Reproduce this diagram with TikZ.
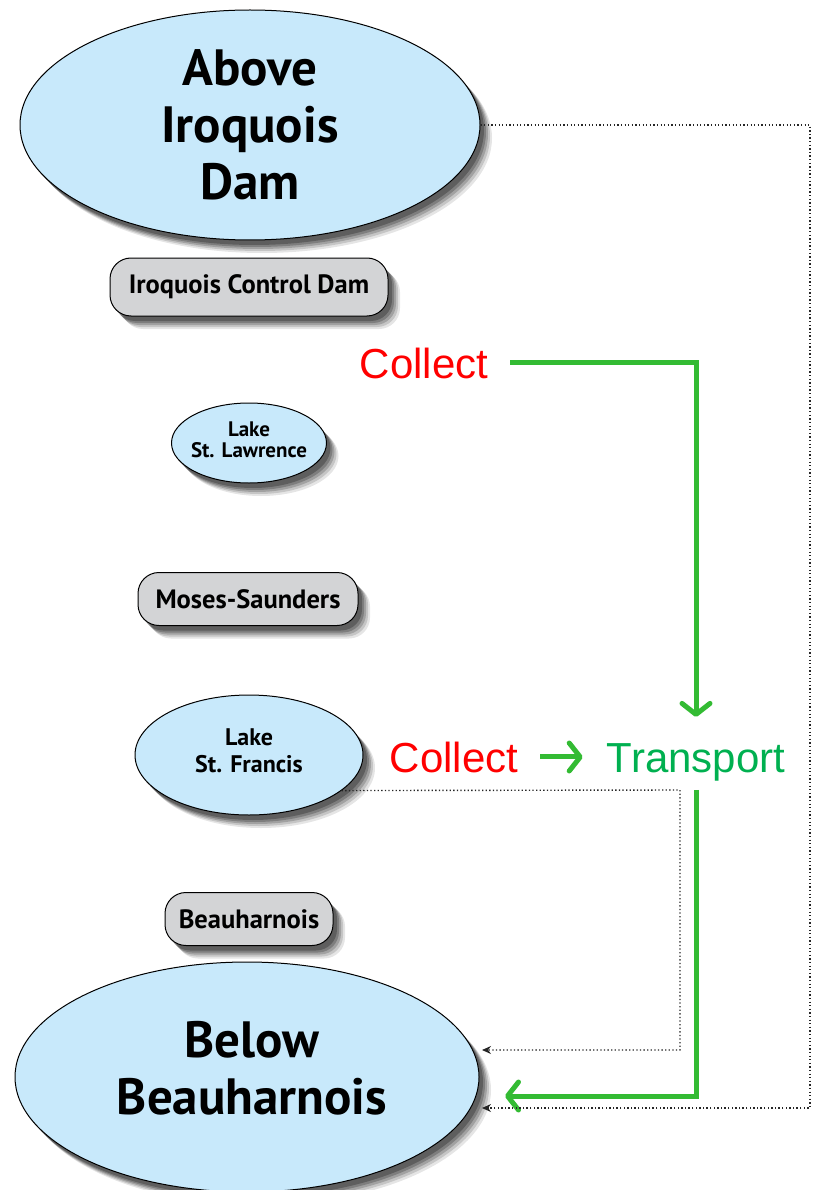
\documentclass[tikz,border=0pt]{standalone}
\usepackage{fontspec}
\newfontfamily\lblfont{PT Sans}
\newfontfamily\arialfont{Liberation Sans}
\usetikzlibrary{shapes.geometric,shadows,arrows.meta}
\definecolor{lakeblue}{HTML}{C8E9FB}
\definecolor{damgray}{HTML}{D3D4D6}
\definecolor{arrowgreen}{HTML}{33BB33}
\definecolor{textgreen}{HTML}{00B050}
\begin{document}
\begin{tikzpicture}[x=1pt,y=-1pt,
  shadowed/.style={
    general shadow={fill=black,opacity=0.10,shadow xshift=12pt,shadow yshift=-13pt},
    general shadow={fill=black,opacity=0.14,shadow xshift=10pt,shadow yshift=-11pt},
    general shadow={fill=black,opacity=0.18,shadow xshift=8pt,shadow yshift=-9pt},
    general shadow={fill=black,opacity=0.22,shadow xshift=6pt,shadow yshift=-7pt},
    general shadow={fill=black,opacity=0.25,shadow xshift=4pt,shadow yshift=-5pt}},
  lake/.style={ellipse,draw=black,line width=1pt,fill=lakeblue,inner sep=0pt,shadowed},
  dam/.style={rectangle,rounded corners=21pt,draw=black,line width=1pt,fill=damgray,inner sep=0pt,shadowed,font=\lblfont\bfseries\fontsize{26.5}{30}\selectfont},
  biglbl/.style={font=\lblfont\bfseries\fontsize{51}{57}\selectfont,align=center},
  greenarrow/.style={draw=arrowgreen,line width=5pt,-{Straight Barb[length=11pt,width=28pt,round]}},
  dotarrow/.style={draw=black!85,line width=1.4pt,dash pattern=on 1.3pt off 2.3pt,-{Stealth[length=9pt,width=8pt]}},
  redtxt/.style={font=\arialfont\fontsize{42}{48}\selectfont,text=red,inner sep=0pt,anchor=base},
  greentxt/.style={font=\arialfont\fontsize{42}{48}\selectfont,text=textgreen,inner sep=0pt,anchor=base}
]
\useasboundingbox (0,0) rectangle (817,1190);

% nodes
\node[lake,minimum width=460pt,minimum height=230pt,
  label={[biglbl]center:Above\\Iroquois\\Dam}] (above) at (250,125) {};
\node[dam,minimum width=278pt,minimum height=58pt] (icd) at (249,287) {Iroquois Control Dam};
\node[lake,minimum width=155pt,minimum height=80pt,
  label={[font=\lblfont\bfseries\fontsize{21}{21}\selectfont,align=center,yshift=3pt]center:Lake\\St. Lawrence}] (lawrence) at (249,443) {};
\node[dam,minimum width=220pt,minimum height=53pt] (moses) at (248,599) {Moses-Saunders};
\node[lake,minimum width=228pt,minimum height=120pt,
  label={[font=\lblfont\bfseries\fontsize{24}{27}\selectfont,align=center,yshift=4pt]center:Lake\\St. Francis}] (francis) at (249,755) {};
\node[dam,minimum width=168pt,minimum height=53pt] (beau) at (249,919) {Beauharnois};
\node[lake,minimum width=464pt,minimum height=230pt,
  label={[biglbl,yshift=9pt,xshift=5pt]center:Below\\Beauharnois}] (below) at (247,1077) {};

\node[redtxt] (collect1) at (424,378) {Collect};
\node[redtxt] (collect2) at (454,772) {Collect};
\node[greentxt] (transport) at (696,772) {Transport};

\coordinate (gin) at (505,1096);
\coordinate (d1) at (482,1050);
\coordinate (d2) at (482,1108);

% green arrows
\draw[greenarrow,shorten <=22pt,shorten >=26pt] (collect1.east) -| (transport.north);
\draw[greenarrow,shorten <=22pt,shorten >=24pt] (collect2.east) -- (collect2.east -| transport.west);
\draw[greenarrow,shorten <=9pt] (transport.south) |- (gin);

% dotted arrows
\draw[dotarrow] (above.east) -- (810,125) |- (d2);
\draw[dotarrow] (francis.-21) -- (680,790) |- (d1);
\end{tikzpicture}
\end{document}
